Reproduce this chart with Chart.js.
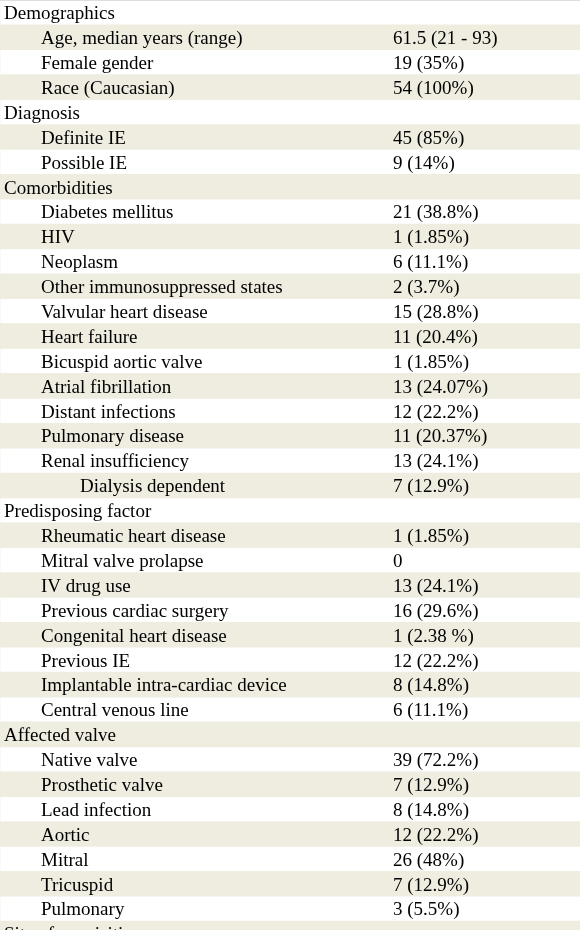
<!DOCTYPE html>
<html>
<head>
<meta charset="utf-8">
<script src="https://cdn.jsdelivr.net/npm/chart.js@4/dist/chart.umd.min.js"></script>
<style>
html,body{margin:0;padding:0;background:#fff;overflow:hidden;}
#wrap{position:relative;width:584px;height:946px;}
</style>
</head>
<body>
<div id="wrap"><canvas id="c"></canvas></div>
<script>
const rowLabels = [
  "Demographics","Age, median years (range)","Female gender","Race (Caucasian)",
  "Diagnosis","Definite IE","Possible IE",
  "Comorbidities","Diabetes mellitus","HIV","Neoplasm","Other immunosuppressed states",
  "Valvular heart disease","Heart failure","Bicuspid aortic valve","Atrial fibrillation",
  "Distant infections","Pulmonary disease","Renal insufficiency","Dialysis dependent",
  "Predisposing factor","Rheumatic heart disease","Mitral valve prolapse","IV drug use",
  "Previous cardiac surgery","Congenital heart disease","Previous IE",
  "Implantable intra-cardiac device","Central venous line",
  "Affected valve","Native valve","Prosthetic valve","Lead infection","Aortic","Mitral",
  "Tricuspid","Pulmonary","Site of acquisition"
];
const rowLevels = [
  0,1,1,1,
  0,1,1,
  0,1,1,1,1,1,1,1,1,1,1,1,2,
  0,1,1,1,1,1,1,1,1,
  0,1,1,1,1,1,1,1,0
];
const rowValues = [
  "","61.5 (21 - 93)","19 (35%)","54 (100%)",
  "","45 (85%)","9 (14%)",
  "","21 (38.8%)","1 (1.85%)","6 (11.1%)","2 (3.7%)","15 (28.8%)","11 (20.4%)",
  "1 (1.85%)","13 (24.07%)","12 (22.2%)","11 (20.37%)","13 (24.1%)","7 (12.9%)",
  "","1 (1.85%)","0","13 (24.1%)","16 (29.6%)","1 (2.38 %)","12 (22.2%)","8 (14.8%)","6 (11.1%)",
  "","39 (72.2%)","7 (12.9%)","8 (14.8%)","12 (22.2%)","26 (48%)","7 (12.9%)","3 (5.5%)",""
];

const FONT = '19px "Liberation Serif", "Times New Roman", Times, serif';
const TEXT = '#000000';
const STRIPE = 'rgb(239,236,224)';
const indentX = [4, 41, 80];
const valueX = 393;

const stripe = rowLabels.map((_, i) => (i % 2 === 1 ? 1 : 0));

const tablePlugin = {
  id: 'tableText',
  afterDatasetsDraw(chart) {
    const ctx = chart.ctx;
    const y = chart.scales.y;
    ctx.save();
    ctx.font = FONT;
    ctx.fillStyle = TEXT;
    ctx.textBaseline = 'alphabetic';
    ctx.textAlign = 'left';
    rowLabels.forEach((lab, i) => {
      const py = y.getPixelForValue(i) + 6.8;
      ctx.fillText(lab, indentX[rowLevels[i]], py);
      if (rowValues[i]) ctx.fillText(rowValues[i], valueX, py);
    });
    ctx.strokeStyle = 'rgb(222,222,222)';
    ctx.lineWidth = 1;
    ctx.beginPath();
    ctx.moveTo(0, 0.5);
    ctx.lineTo(580, 0.5);
    ctx.stroke();
    ctx.restore();
  }
};

new Chart(document.getElementById('c'), {
  type: 'bar',
  data: {
    labels: rowLabels,
    datasets: [{
      data: stripe,
      backgroundColor: STRIPE,
      borderWidth: 0,
      barPercentage: 1,
      categoryPercentage: 1
    }]
  },
  options: {
    indexAxis: 'y',
    responsive: true,
    maintainAspectRatio: false,
    animation: false,
    layout: { padding: { left: 0, right: 4, top: 0, bottom: 0 } },
    plugins: { legend: { display: false }, tooltip: { enabled: false } },
    scales: {
      x: { display: false, min: 0, max: 1 },
      y: { display: false }
    }
  },
  plugins: [tablePlugin]
});
</script>
</body>
</html>
